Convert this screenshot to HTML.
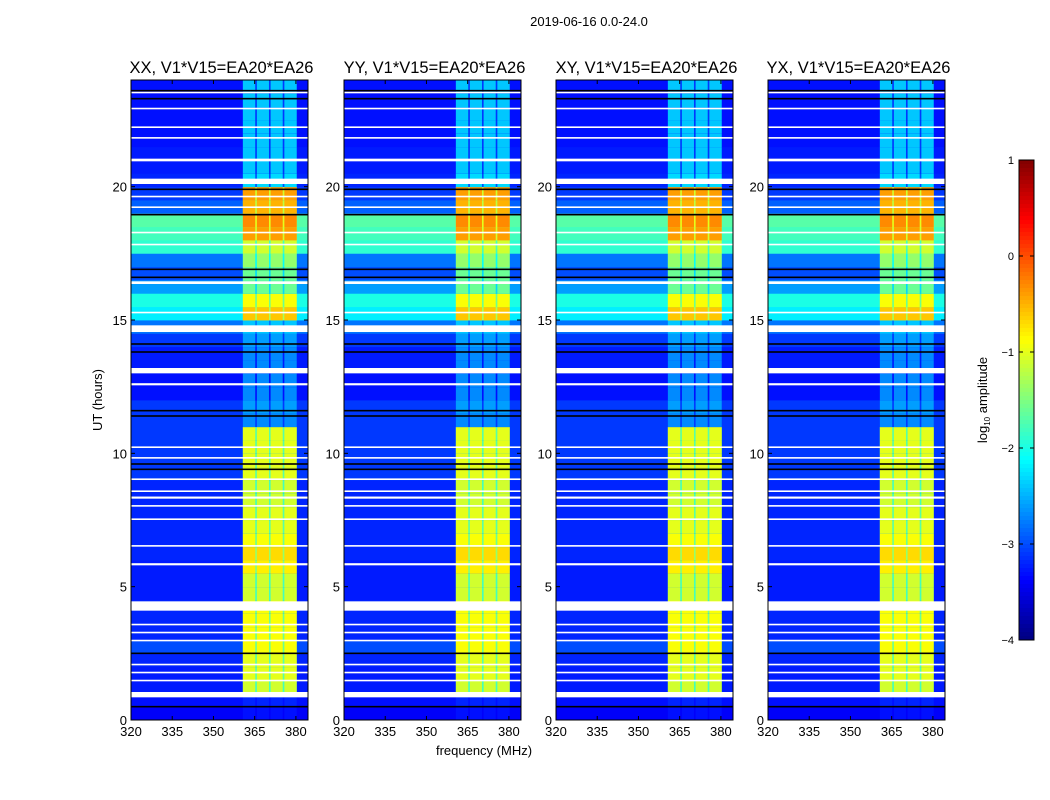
<!DOCTYPE html>
<html><head><meta charset="utf-8"><style>
body{margin:0;background:#fff;font-family:"Liberation Sans","DejaVu Sans",sans-serif;}
#wrap{position:relative;width:1050px;height:800px;overflow:hidden;}
svg text{font-family:"Liberation Sans","DejaVu Sans",sans-serif;}
</style></head><body>
<div id="wrap">
<svg id="fig" width="1050" height="800" xmlns="http://www.w3.org/2000/svg">
<text x="589" y="26" font-size="13" text-anchor="middle">2019-06-16 0.0-24.0</text>
<text x="484" y="755" font-size="13" text-anchor="middle">frequency (MHz)</text>
<text x="102" y="400" font-size="13" text-anchor="middle" transform="rotate(-90 102 400)">UT (hours)</text>
<text x="987" y="400" font-size="13" text-anchor="middle" transform="rotate(-90 987 400)">log<tspan font-size="8" dy="3">10</tspan><tspan dy="-3"> amplitude</tspan></text>
</svg>
</div>
<script>
// ---- data ----
const panelTitles = ["XX, V1*V15=EA20*EA26","YY, V1*V15=EA20*EA26","XY, V1*V15=EA20*EA26","YX, V1*V15=EA20*EA26"];
const xTicks = [320,335,350,365,380];
const yTicks = [0,5,10,15,20];
const cbTicks = [1,0,-1,-2,-3,-4];
// background log amplitude per half-hour row (0-0.5h ... 23.5-24h)
const bgLevel = [-3.4,-3.3,-3.25,-3.25,-3.2,-3.0,-3.2,-3.2,-3.2,-3.25,-3.25,-3.25,-3.2,-3.2,-3.2,-3.2,
 -3.2,-3.2,-3.1,-3.1,-3.1,-3.1,-3.1,-3.1,-3.3,-3.3,-3.25,-3.25,-3.1,-2.8,-2.2,-2.0,
 -2.6,-3.0,-2.8,-1.9,-1.8,-1.7,-2.9,-3.1,-3.2,-3.25,-3.25,-3.3,-3.3,-3.3,-3.3,-3.3];
// comb (RFI) band log amplitude per half-hour row
const combLevel = [-3.3,-3.2,-1.1,-1.0,-1.0,-0.9,-0.9,-0.9,-0.9,-1.1,-1.1,-0.8,-0.7,-0.9,-1.0,-1.0,
 -1.1,-1.1,-1.0,-1.0,-1.0,-1.0,-2.7,-2.6,-2.7,-2.7,-2.7,-2.7,-2.6,-2.4,-0.6,-0.9,
 -1.6,-1.6,-1.4,-1.1,-0.4,-0.3,-0.5,-0.4,-2.3,-2.4,-2.4,-2.4,-2.4,-2.4,-2.4,-2.4];
const combBands = [[360.7,365.2],[365.8,370.2],[370.8,375.2],[375.8,380.3]];
const whiteGaps = [[0.85,0.2],[1.45,0.06],[1.75,0.06],[2.05,0.06],[2.95,0.06],[3.25,0.06],[3.55,0.06],[4.1,0.35],[5.8,0.08],[6.5,0.06],[7.5,0.06],[8.0,0.06],[8.3,0.08],[8.55,0.06],[9.0,0.06],[9.8,0.06],[10.2,0.06],[12.55,0.08],[13.0,0.2],[14.55,0.25],[15.25,0.06],[16.35,0.1],[17.8,0.06],[18.25,0.06],[19.2,0.06],[19.6,0.06],[20.1,0.2],[20.95,0.1],[21.8,0.06],[22.2,0.06],[22.9,0.06],[23.5,0.06]];
const blackLines = [0.5,2.5,9.4,9.6,11.4,11.6,13.8,14.1,16.6,16.9,18.95,19.9,23.3,23.6];
</script>
<script>
const NS="http://www.w3.org/2000/svg";
const svg=document.getElementById('fig');
const panelX=[131,344,556,768], PW=177, PT=80, PB=720;
const fMin=320,fMax=384.4, hMin=0,hMax=24;
function jet(v){let t=Math.max(0,Math.min(1,(v+4)/5));
 const f=(x)=>Math.max(0,Math.min(1,1.5-Math.abs(4*t-x)));
 return `rgb(${Math.round(255*f(3))},${Math.round(255*f(2))},${Math.round(255*f(1))})`;}
function mk(tag,attrs,parent){const e=document.createElementNS(NS,tag);for(const k in attrs)e.setAttribute(k,attrs[k]);(parent||svg).appendChild(e);return e;}
panelX.forEach((px,pi)=>{
 const xs=f=>px+(f-fMin)/(fMax-fMin)*PW;
 const ys=h=>PB-(h-hMin)/(hMax-hMin)*(PB-PT);
 const g=mk('g',{});
 
 
 for(let r=0;r<bgLevel.length;r++){
  const h0=r*0.5,h1=h0+0.5;
  const y1=ys(h1),hh=ys(h0)-ys(h1)+0.4;
  const bgc=mk('rect',{x:px,y:y1.toFixed(2),width:PW,height:hh.toFixed(2),fill:jet(bgLevel[r])},g);
  
  
  // inter-band fill
  const a=combBands[0][0],b=combBands[combBands.length-1][1];
  mk('rect',{x:xs(a).toFixed(2),y:y1.toFixed(2),width:(xs(b)-xs(a)).toFixed(2),height:hh.toFixed(2),fill:jet(Math.max(bgLevel[r],combLevel[r]-0.7))},g);
  combBands.forEach(bd=>{
   const v=Math.max(combLevel[r],bgLevel[r]);
   const c=mk('rect',{x:xs(bd[0]).toFixed(2),y:y1.toFixed(2),width:(xs(bd[1])-xs(bd[0])).toFixed(2),height:hh.toFixed(2),fill:jet(v)},g);
   
   
  });
 }
 whiteGaps.forEach(w=>{const e=mk('rect',{x:px,y:ys(w[0]+w[1]),width:PW,height:ys(w[0])-ys(w[0]+w[1]),fill:'#fff'},g);
  
  });
 blackLines.forEach(b=>{const e=mk('rect',{x:px,y:ys(b)-0.8,width:PW,height:1.6,fill:'#000'},g);
  
  });
 const fr=mk('rect',{x:px,y:PT,width:PW,height:PB-PT,fill:'none',stroke:'#000','stroke-width':1});
 
 
 const t=mk('text',{x:px+PW/2+2,y:PT-7,'font-size':16.5,'text-anchor':'middle'});t.textContent=panelTitles[pi];
 
 
 xTicks.forEach(v=>{const x=xs(v);mk('line',{x1:x,x2:x,y1:PB,y2:PB-4,stroke:'#000'});mk('line',{x1:x,x2:x,y1:PT,y2:PT+4,stroke:'#000'});
  const l=mk('text',{x:x,y:PB+16,'font-size':13,'text-anchor':'middle'});l.textContent=v;
  
  });
 yTicks.forEach(v=>{const y=ys(v);mk('line',{x1:px,x2:px+4,y1:y,y2:y,stroke:'#000'});mk('line',{x1:px+PW,x2:px+PW-4,y1:y,y2:y,stroke:'#000'});
  const l=mk('text',{x:px-4,y:y+5,'font-size':13,'text-anchor':'end'});l.textContent=v;
  
  });
});
// colorbar
const cbX=1019,cbW=15,cbT=160,cbB=640;
const cb=mk('g',{});


for(let i=0;i<120;i++){const v=1-5*(i+0.5)/120;mk('rect',{x:cbX,y:cbT+i*4,width:cbW,height:4.4,fill:jet(v)},cb);}
mk('rect',{x:cbX,y:cbT,width:cbW,height:cbB-cbT,fill:'none',stroke:'#000'},cb);
cbTicks.forEach(v=>{const y=cbT+(1-v)/5*(cbB-cbT);mk('line',{x1:cbX,x2:cbX+4,y1:y,y2:y,stroke:'#000'},cb);mk('line',{x1:cbX+cbW,x2:cbX+cbW-4,y1:y,y2:y,stroke:'#000'},cb);
 const l=mk('text',{x:cbX-5,y:y+4,'font-size':11,'text-anchor':'end'},cb);l.textContent=(v<0?'\u2212':'')+Math.abs(v);
 
 });
</script>
</body></html>
